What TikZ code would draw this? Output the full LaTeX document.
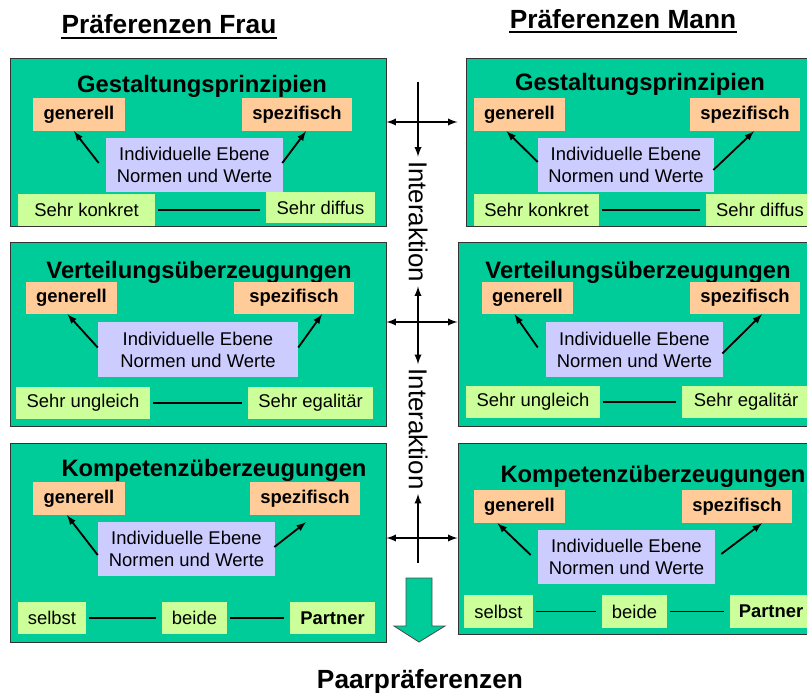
\documentclass[tikz,border=0pt]{standalone}
\usepackage{fontspec}
\setmainfont{Liberation Sans}
\usetikzlibrary{calc}
\definecolor{panelgreen}{HTML}{00CC99}
\definecolor{peach}{HTML}{FFCC99}
\definecolor{lilac}{HTML}{CCCCFF}
\definecolor{palelime}{HTML}{CCFF99}
\tikzset{
  sz/.style 2 args={minimum width=#1*0.025cm, minimum height=#2*0.025cm},
  panel/.style={draw=black!80, fill=panelgreen, line width=0.7pt, inner sep=0pt},
  ttl/.style={font=\bfseries\fontsize{16.9}{18}\selectfont, anchor=base, inner sep=0pt},
  head/.style={font=\bfseries\fontsize{18.7}{20}\selectfont, anchor=base, inner sep=0pt},
  lvl/.style={fill=peach, inner sep=0pt, font=\bfseries\fontsize{13.1}{15.6}\selectfont},
  ebene/.style={fill=lilac, inner sep=0pt, align=center, font=\fontsize{13.1}{15.6}\selectfont},
  pole/.style={fill=palelime, inner sep=0pt, font=\fontsize{13.1}{15.6}\selectfont},
  inter/.style={rotate=-90, inner sep=3pt, font=\fontsize{18.4}{20}\selectfont},
  arr/.style={->, >=latex, line width=1.3pt},
  lnk/.style={line width=0.8pt, shorten <=2pt, shorten >=4pt},
  uline/.style={line width=1.4pt}
}
\begin{document}
\begin{tikzpicture}[x=0.025cm, y=-0.025cm]
  \useasboundingbox (0,0) rectangle (807,692);
  % headings
  \node[head] (hf) at (169,33) {Präferenzen Frau};
  \draw[uline] ($(hf.base west)+(0,5)$) -- ($(hf.base east)+(0,5)$);
  \node[head] (hm) at (623,28) {Präferenzen Mann};
  \draw[uline] ($(hm.base west)+(0,4)$) -- ($(hm.base east)+(0,4)$);

  % Gestaltungsprinzipien, Frau
  \node[panel, sz={376}{168}] (pl1) at (198,142) {};
  \node[ttl] (tl1) at (202,92) {Gestaltungsprinzipien};
  \node[lvl, sz={92}{33}] (gl1) at (79,114.5) {generell};
  \node[lvl, sz={110}{33}] (sl1) at (297,114.5) {spezifisch};
  \node[ebene, sz={177}{54}] (el1) at (194.5,165) {Individuelle Ebene\\Normen und Werte};
  \draw[arr] ($(el1.west)+(-7,-2)$) -- ($(gl1.south)+(-5,0)$);
  \draw[arr] ($(el1.east)+(-1,-2)$) -- ($(sl1.south)+(9,0)$);
  \node[pole, sz={137}{32}] (al1) at (86.5,210) {Sehr konkret};
  \node[pole, sz={109}{31}] (bl1) at (320.5,207.5) {Sehr diffus};
  \draw[lnk] (al1.east) -- (al1.east -| bl1.west);

  % Gestaltungsprinzipien, Mann
  \node[panel, sz={348}{168}] (pr1) at (640,142) {};
  \node[ttl] (tr1) at (640,90) {Gestaltungsprinzipien};
  \node[lvl, sz={91}{33}] (gr1) at (519.5,114.5) {generell};
  \node[lvl, sz={110}{33}] (sr1) at (745,114.5) {spezifisch};
  \node[ebene, sz={176}{54}] (er1) at (626,165) {Individuelle Ebene\\Normen und Werte};
  \draw[arr] ($(er1.west)+(0,-3)$) -- ($(gr1.south)+(-13,0)$);
  \draw[arr] ($(er1.east)+(-1,5)$) -- ($(sr1.south)+(9,0)$);
  \node[pole, sz={125}{32}] (ar1) at (536.5,210) {Sehr konkret};
  \node[pole, sz={108}{32}] (br1) at (760,210) {Sehr diffus};
  \draw[lnk] (ar1) -- (br1);

  % Verteilungsueberzeugungen, Frau
  \node[panel, sz={376}{184}] (pl2) at (198,334) {};
  \node[ttl] (tl2) at (199,278) {Verteilungsüberzeugungen};
  \node[lvl, sz={91}{32}] (gl2) at (71.5,298) {generell};
  \node[lvl, sz={120}{32}] (sl2) at (294,298) {spezifisch};
  \node[ebene, sz={200}{55}] (el2) at (198,349.5) {Individuelle Ebene\\Normen und Werte};
  \draw[arr] ($(el2.west)+(0,-2)$) -- ($(gl2.south)+(-4,0)$);
  \draw[arr] ($(el2.east)+(0,-2)$) -- ($(sl2.south)+(28,0)$);
  \node[pole, sz={134}{32}] (al2) at (83,403) {Sehr ungleich};
  \node[pole, sz={125}{32}] (bl2) at (310.5,403) {Sehr egalitär};
  \draw[lnk] (al2) -- (bl2);

  % Verteilungsueberzeugungen, Mann
  \node[panel, sz={356}{184}] (pr2) at (636,334) {};
  \node[ttl] (tr2) at (638,278) {Verteilungsüberzeugungen};
  \node[lvl, sz={91}{32}] (gr2) at (527.5,298) {generell};
  \node[lvl, sz={110}{32}] (sr2) at (745,298) {spezifisch};
  \node[ebene, sz={177}{55}] (er2) at (634.5,349.5) {Individuelle Ebene\\Normen und Werte};
  \draw[arr] ($(er2.west)+(-8,-2)$) -- ($(gr2.south)+(-13,0)$);
  \draw[arr] ($(er2.east)+(-1,4)$) -- ($(sr2.south)+(17,0)$);
  \node[pole, sz={134}{32}] (ar2) at (533,402) {Sehr ungleich};
  \node[pole, sz={128}{32}] (br2) at (746,402) {Sehr egalitär};
  \draw[lnk] (ar2) -- (br2);

  % Kompetenzueberzeugungen, Frau
  \node[panel, sz={376}{199}] (pl3) at (198,542.5) {};
  \node[ttl] (tl3) at (214,476) {Kompetenzüberzeugungen};
  \node[lvl, sz={92}{33}] (gl3) at (79,498.5) {generell};
  \node[lvl, sz={110}{33}] (sl3) at (305,498.5) {spezifisch};
  \node[ebene, sz={177}{54}] (el3) at (186.5,549) {Individuelle Ebene\\Normen und Werte};
  \draw[arr] ($(el3.west)+(0,6)$) -- ($(gl3.south)+(-12,0)$);
  \draw[arr] ($(el3.east)+(-1,-2)$) -- ($(sl3.south)+(1,7)$);
  \node[pole, sz={68}{32}] (al3) at (52,618) {selbst};
  \node[pole, sz={65}{32}] (bl3) at (194.5,618) {beide};
  \node[pole, sz={85}{32}, font=\bfseries\fontsize{13.1}{15.6}\selectfont] (cl3) at (332.5,618) {Partner};
  \draw[lnk] (al3) -- (bl3);
  \draw[lnk] (bl3) -- (cl3);

  % Kompetenzueberzeugungen, Mann
  \node[panel, sz={356}{191}] (pr3) at (636,538.5) {};
  \node[ttl] (tr3) at (653,482) {Kompetenzüberzeugungen};
  \node[lvl, sz={91}{33}] (gr3) at (519.5,506.5) {generell};
  \node[lvl, sz={110}{33}] (sr3) at (737,506.5) {spezifisch};
  \node[ebene, sz={177}{54}] (er3) at (626.5,557) {Individuelle Ebene\\Normen und Werte};
  \draw[arr] ($(er3.west)+(-7,-2)$) -- ($(gr3.south)+(-22,0)$);
  \draw[arr] ($(er3.east)+(6,-3)$) -- ($(sr3.south)+(25,0)$);
  \node[pole, sz={69}{33}] (ar3) at (498.5,611.5) {selbst};
  \node[pole, sz={65}{33}] (br3) at (634.5,611.5) {beide};
  \node[pole, sz={82}{33}, font=\bfseries\fontsize{13.1}{15.6}\selectfont] (cr3) at (771,611.5) {Partner};
  \draw[lnk] (ar3) -- (br3);
  \draw[lnk] (br3) -- (cr3);

  % Interaktion
  \node[inter] (int1) at (418,221.5) {Interaktion};
  \node[inter] (int2) at (418,429) {Interaktion};
  \coordinate (v1) at (418,82);
  \coordinate (v3) at (418,563);
  \coordinate (x1) at (418,122);
  \coordinate (x2) at (418,322);
  \coordinate (x3) at (418,538);
  \draw[arr, <->] (pl1.east |- x1) -- ($(pr1.west |- x1)+(-8,0)$);
  \draw[arr] (v1) -- (int1);
  \draw[arr, <->] (pl2.east |- x2) -- (pr2.west |- x2);
  \draw[arr, <->] (int1) -- (int2);
  \draw[arr, <->] (pl3.east |- x3) -- (pr3.west |- x3);
  \draw[arr] (v3) -- (int2);

  % Paarpraeferenzen
  \draw[draw=black!70, fill=panelgreen, line width=0.6pt] (406,578) -- (432,578) -- (432,626) -- (445,626)
    -- (419,642) -- (394,626) -- (406,626) -- cycle;
  \node[head] (paar) at (420,688) {Paarpräferenzen};
\end{tikzpicture}
\end{document}
